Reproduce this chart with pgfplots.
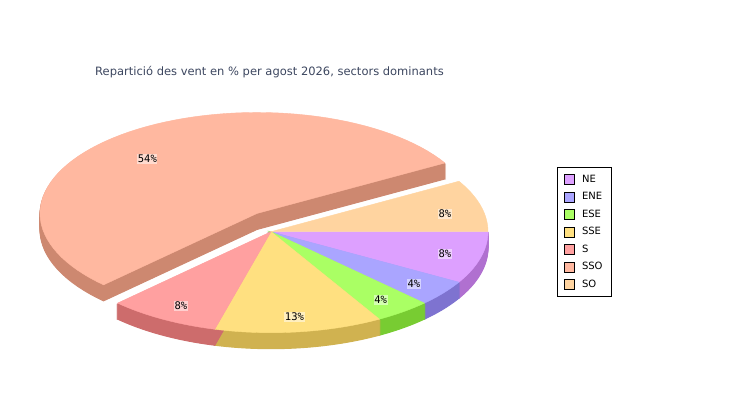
\documentclass[border=0pt]{standalone}
\usepackage{fontspec}
\setmainfont{DejaVu Sans}
\newfontfamily\labelfont{DejaVu Sans Mono}
\usepackage{pgfplots}
\usepackage{pgfplotstable}
\pgfplotsset{compat=1.18}

\definecolor{cNE}{RGB}{221,160,255}\definecolor{sNE}{RGB}{176,112,208}
\definecolor{cENE}{RGB}{170,165,255}\definecolor{sENE}{RGB}{126,115,208}
\definecolor{cESE}{RGB}{170,255,100}\definecolor{sESE}{RGB}{120,204,50}
\definecolor{cSSE}{RGB}{255,224,128}\definecolor{sSSE}{RGB}{208,178,80}
\definecolor{cS}{RGB}{255,160,160}\definecolor{sS}{RGB}{205,108,108}
\definecolor{cSSO}{RGB}{255,184,160}\definecolor{sSSO}{RGB}{205,136,112}
\definecolor{cSO}{RGB}{255,212,160}\definecolor{sSO}{RGB}{205,170,120}
\definecolor{titlecol}{RGB}{60,70,95}

% share of each sector in %
\pgfplotstableread{
name share
NE 8.33
ENE 4.17
ESE 4.17
SSE 12.50
S 8.33
SSO 54.17
SO 8.33
}\windtable

\def\PieA{217}\def\PieB{101}
\def\CX{271}\def\CY{168.3}
\def\EXPL{23}

% cumulative angles (clockwise from east)
\def\acc{0}
\pgfplotsforeachungrouped \i in {0,...,6}{%
  \pgfplotstablegetelem{\i}{share}\of\windtable
  \pgfmathsetmacro\tmpS{\acc}%
  \pgfmathsetmacro\tmpE{\acc-3.6*\pgfplotsretval}%
  \pgfmathtruncatemacro\tmpP{round(\pgfplotsretval)}%
  \expandafter\let\csname angS\i\endcsname\tmpS
  \expandafter\let\csname angE\i\endcsname\tmpE
  \expandafter\let\csname pct\i\endcsname\tmpP
  \let\acc\tmpE
}
% exploded slice (SSO, index 5)
\pgfmathsetmacro\midSSO{(\csname angS5\endcsname+\csname angE5\endcsname)/2}
\pgfmathsetmacro\SX{\CX+\EXPL*cos(\midSSO)}
\pgfmathsetmacro\SY{\CY+\EXPL*sin(\midSSO)}

\newcommand\drawwedge[5]{%
  \edef\doit{\noexpand\addplot[#1, forget plot, domain=#5:#4, samples=72, variable=\noexpand\t]
    ({#2+\PieA*cos(\noexpand\t)}, {#3+\PieB*sin(\noexpand\t)}) -- (axis cs:#2,#3) -- cycle;}%
  \doit}
\newcommand\extrude[4]{%
  \pgfplotsforeachungrouped \k in {1,...,16}{%
    \pgfmathsetmacro\yy{#4-\k}%
    \drawwedge{fill=#2,draw=#2,line width=1pt}{#3}{\yy}{\csname angS#1\endcsname}{\csname angE#1\endcsname}%
  }}
\newcommand\topface[4]{%
  \drawwedge{fill=#2,draw=#2,line width=0.4pt}{#3}{#4}{\csname angS#1\endcsname}{\csname angE#1\endcsname}}
\newcommand\slicelabel[3]{%
  \pgfmathsetmacro\midang{(\csname angS#1\endcsname+\csname angE#1\endcsname)/2}%
  \pgfmathsetmacro\lx{#2+0.83*\PieA*cos(\midang)}%
  \pgfmathsetmacro\fy{sin(\midang)<0 ? 0.85 : 0.68}%
  \pgfmathsetmacro\ly{#3+\fy*\PieB*sin(\midang)}%
  \edef\doit{\noexpand\node[lbl] at (axis cs:\lx,\ly) {\csname pct#1\endcsname\noexpand\%};}%
  \doit}

\tikzset{lbl/.style={fill=white, fill opacity=0.5, text opacity=1, inner xsep=0.6pt, inner ysep=1pt,
  font=\labelfont\fontsize{10.5}{11}\selectfont}}

\begin{document}
\begin{tikzpicture}
\begin{axis}[
  scale only axis, width=750pt, height=400pt,
  xmin=0, xmax=750, ymin=0, ymax=400,
  hide axis, clip=false,
  legend image code/.code={\draw[#1, draw=black, line width=0.6pt] (0pt,-5pt) rectangle (10pt,5pt);},
  legend style={at={(axis description cs:0.7427,0.5833)}, anchor=north west,
    draw=black, line width=0.8pt, fill=white,
    font=\fontsize{10}{10}\selectfont, inner xsep=7pt, inner ysep=6pt,
    row sep=4.6pt, cells={anchor=west},
    /tikz/every odd column/.append style={column sep=5pt}},
]
% exploded slice first
\extrude{5}{sSSO}{\SX}{\SY}
\topface{5}{cSSO}{\SX}{\SY}
% walls of front slices
\extrude{0}{sNE}{\CX}{\CY}
\extrude{1}{sENE}{\CX}{\CY}
\extrude{2}{sESE}{\CX}{\CY}
\extrude{3}{sSSE}{\CX}{\CY}
\extrude{4}{sS}{\CX}{\CY}
% top faces
\topface{0}{cNE}{\CX}{\CY}
\topface{1}{cENE}{\CX}{\CY}
\topface{2}{cESE}{\CX}{\CY}
\topface{3}{cSSE}{\CX}{\CY}
\topface{4}{cS}{\CX}{\CY}
\topface{6}{cSO}{\CX}{\CY}
% labels
\slicelabel{0}{\CX}{\CY}
\slicelabel{1}{\CX}{\CY}
\slicelabel{2}{\CX}{\CY}
\slicelabel{3}{\CX}{\CY}
\slicelabel{4}{\CX}{\CY}
\slicelabel{5}{\SX}{\SY}
\slicelabel{6}{\CX}{\CY}
% title
\node[font=\fontsize{11.5}{13}\selectfont, text=titlecol] at (axis cs:269.5,328) {Repartició des vent en \% per agost 2026, sectors dominants};
% legend
\addlegendimage{fill=cNE}\addlegendentry{NE}
\addlegendimage{fill=cENE}\addlegendentry{ENE}
\addlegendimage{fill=cESE}\addlegendentry{ESE}
\addlegendimage{fill=cSSE}\addlegendentry{SSE}
\addlegendimage{fill=cS}\addlegendentry{S}
\addlegendimage{fill=cSSO}\addlegendentry{SSO}
\addlegendimage{fill=cSO}\addlegendentry{SO}
\end{axis}
\path (current axis.south west) rectangle (current axis.north east);
\end{tikzpicture}
\end{document}
